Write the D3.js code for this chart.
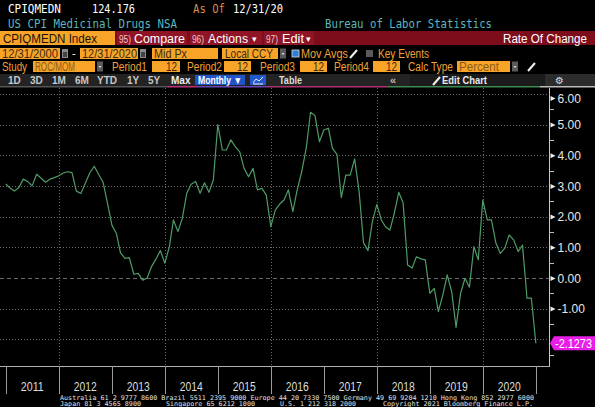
<!DOCTYPE html>
<html>
<head>
<meta charset="utf-8">
<script src="https://cdnjs.cloudflare.com/ajax/libs/d3/7.8.5/d3.min.js"></script>
<style>
  body { margin: 0; background: #000; overflow: hidden; }
  svg { display: block; }
</style>
</head>
<body>
<script>
// 12 month rate of change (%), one value per month end, Dec 2010 .. Dec 2020
var rocValues = [
  3.06,
  2.92, 2.83, 2.95, 3.22, 3.14, 3.00, 3.38, 3.25, 3.12, 3.22, 3.27, 3.33,
  3.42, 3.46, 3.43, 2.83, 2.75, 3.08, 3.42, 3.64, 3.38, 3.12, 2.45, 1.72,
  1.45, 0.82, 0.64, 0.66, 0.12, 0.15, -0.07, 0.00, 0.37, 0.62, 0.89, 0.48,
  1.02, 1.89, 1.51, 1.94, 2.76, 3.05, 3.14, 2.76, 3.10, 2.79, 3.19, 5.00,
  4.17, 4.17, 4.50, 4.28, 4.11, 3.57, 3.30, 3.57, 2.87, 2.92, 2.70, 1.67,
  2.21, 2.40, 2.54, 2.87, 2.16, 2.87, 3.46, 4.22, 5.40, 5.29, 4.44, 4.82,
  4.88, 4.22, 4.03, 2.62, 3.35, 3.35, 3.88, 2.81, 1.15, 0.89, 1.83, 2.40,
  1.89, 1.67, 1.56, 2.10, 2.79, 2.45, 0.42, 0.32, 0.69, 0.62, 0.59, -0.50,
  -0.34, -1.10, -0.55, 0.10, -0.45, -1.61, -0.50, -0.01, -0.30, 1.02, 0.59, 2.54,
  1.89, 1.89, 1.13, 0.80, 0.97, 1.40, 1.24, 0.86, 1.07, -0.66, -0.66, -2.1273
];
var firstMonth = new Date(2010, 11, 1);
var yearLabels = d3.range(2011, 2021);
var gridYears = [2012, 2014, 2016, 2018, 2020];
var yTicks = d3.range(-2, 7);
var yLabelTicks = d3.range(-1, 7); // -2.00 sits under the last value marker
var yMinorTicks = d3.range(-2.5, 6, 1);
var lastLabel = "-2.1273";

var svgWidth = 595, svgHeight = 407;
var plot = { left: 0, right: 549, top: 88, bottom: 366 };
var sans = "Liberation Sans, Arial, sans-serif";
var mono = "DejaVu Sans Mono, Liberation Mono, monospace";
var orange = "#f7a428", red = "#7d0d1b", btnRed = "#8f1526", teal = "#5cb6bf", amberText = "#f0a23a";

var svg = d3.select("body").append("svg")
  .attr("width", svgWidth)
  .attr("height", svgHeight)
  .style("background", "#000");

// helpers for the terminal header
function box(x, y, w, h, fill) {
  return svg.append("rect").attr("x", x).attr("y", y).attr("width", w).attr("height", h).attr("fill", fill);
}
function txt(x, y, s, o) {
  o = o || {};
  var t = svg.append("text").attr("x", x).attr("y", y).text(s)
    .attr("fill", o.fill || "#fff")
    .attr("font-size", o.size || 12)
    .attr("font-family", o.font || sans);
  if (o.len) t.attr("textLength", o.len).attr("lengthAdjust", "spacingAndGlyphs");
  if (o.anchor) t.attr("text-anchor", o.anchor);
  if (o.weight) t.attr("font-weight", o.weight);
  return t;
}
function dropdown(x, y) {
  box(x, y, 6, 10, "#5a5a5a");
  svg.append("path").attr("d", "M" + (x + 1.5) + "," + (y + 4.5) + "h3l-1.5,2z").attr("fill", "#ddd");
}
function pencil(x, y) {
  svg.append("line").attr("x1", x).attr("y1", y + 9).attr("x2", x + 7).attr("y2", y + 1)
    .attr("stroke", "#eee").attr("stroke-width", 2);
}
function calIcon(x, y) {
  box(x, y, 6, 9, "#8a8a8a");
  box(x + 1, y + 3, 4, 5, "#444");
}

// row 1 and 2: ticker and titles
txt(8, 13, "CPIQMEDN", { font: mono, size: 13, len: 53 });
txt(92, 13, "124.176", { font: mono, size: 13, len: 43 });
txt(193, 13, "As Of", { font: mono, size: 13, len: 32, fill: "#d9894a" });
txt(233, 13, "12/31/20", { font: mono, size: 13, len: 50 });
txt(8, 28, "US CPI Medicinal Drugs NSA", { font: mono, size: 12, len: 169, fill: teal });
txt(325, 28, "Bureau of Labor Statistics", { font: mono, size: 12, len: 167, fill: teal });

// row 3: red command bar
box(0, 31, 595, 14, red);
box(0, 31, 115, 14, orange);
txt(3, 43, "CPIQMEDN Index", { size: 13, len: 94, fill: "#1a1208" });
box(117, 31, 70, 14, btnRed);
txt(119, 43, "95)", { size: 11, fill: "#f2c6c6", len: 12 });
txt(134, 43, "Compare", { size: 13, len: 51 });
box(190, 31, 72, 14, btnRed);
txt(192, 43, "96)", { size: 11, fill: "#f2c6c6", len: 12 });
txt(208, 43, "Actions", { size: 13, len: 40 });
txt(252, 42, "▾", { size: 9 });
box(264, 31, 50, 14, btnRed);
txt(266, 43, "97)", { size: 11, fill: "#f2c6c6", len: 12 });
txt(282, 43, "Edit", { size: 13, len: 22 });
txt(306, 42, "▾", { size: 9 });
txt(503, 43, "Rate Of Change", { size: 12, len: 84 });

// row 4: dates and settings
box(0, 48, 60, 11, orange);
txt(2, 58, "12/31/2000", { size: 12, len: 56, fill: "#3a2a10" });
calIcon(62, 49);
txt(72, 57, "-", { size: 11 });
box(80, 48, 58, 11, orange);
txt(82, 58, "12/31/2020", { size: 12, len: 55, fill: "#3a2a10" });
calIcon(140, 49);
box(152, 48, 66, 11, orange);
txt(154, 58, "Mid Px", { size: 12, len: 33, fill: "#3a2a10" });
box(222, 48, 56, 11, orange);
txt(225, 58, "Local CCY", { size: 12, len: 48, fill: "#3a2a10" });
dropdown(280, 48.5);
box(292, 50, 7, 7, "#2f7fd6").attr("stroke", "#ddd").attr("stroke-width", 0.8);
txt(301, 58, "Mov Avgs", { size: 12, len: 47, fill: amberText });
pencil(350, 49);
box(366, 50, 7, 7, "#5a5a5a");
txt(378, 58, "Key Events", { size: 12, len: 51, fill: amberText });

// row 5: study parameters
txt(2, 71, "Study", { size: 12, len: 25, fill: amberText });
box(33, 61, 62, 11, orange);
txt(35, 71, "ROC/MOM", { size: 12, len: 40, fill: "#8a5a1a" });
dropdown(97, 61.5);
var periods = [[112, 152, 180], [187, 224, 251], [260, 300, 327], [334, 373, 400]];
periods.forEach(function(p, i) {
  txt(p[0], 71, "Period" + (i + 1), { size: 12, len: 35, fill: amberText });
  box(p[1], 61, p[2] - p[1], 11, orange);
  txt(p[2] - 3, 71, "12", { size: 12, len: 11, fill: "#3a2a10", anchor: "end" });
});
txt(408, 71, "Calc Type", { size: 12, len: 45, fill: amberText });
box(457, 61, 53, 11, orange);
txt(459, 71, "Percent", { size: 12, len: 40, fill: "#8a5a1a" });
dropdown(512, 61.5);
pencil(528, 62);

// row 6: range buttons
box(0, 74, 595, 12, "#232323");
box(410, 74, 135, 12, "#1b1b1b");
box(545, 74, 50, 12, "#2c2c2c");
var ranges = [["1D", 8], ["3D", 30], ["1M", 52], ["6M", 75], ["YTD", 97], ["1Y", 127], ["5Y", 148], ["Max", 171]];
ranges.forEach(function(r) {
  txt(r[1], 84, r[0], { size: 10, weight: "bold", fill: r[0] === "Max" ? "#eee" : "#c8c8c8" });
});
box(195, 75, 50, 10, "#2055c8");
txt(198, 84, "Monthly ▼", { size: 10, weight: "bold", len: 44 });
box(250, 75, 16, 10, "#2358cc");
svg.append("path").attr("d", "M253,83 L256,79 L259,81 L263,77 M253,84 H263")
  .attr("fill", "none").attr("stroke", "#fff").attr("stroke-width", 0.9);
txt(279, 84, "Table", { size: 10, weight: "bold", fill: "#ddd", len: 23 });
txt(390, 84, "«", { size: 11, weight: "bold", fill: "#bbb" });
pencil(433, 76);
txt(442, 84, "Edit Chart", { size: 10, weight: "bold", fill: "#e8e8e8", len: 45 });
txt(555, 84, "⚙", { size: 10, fill: "#ddd", font: "DejaVu Sans, sans-serif" });

// coloured strip under toolbar
var strip = [[0, 168, "#555"], [168, 197, "#c0307a"], [197, 267, "#6a46b8"], [267, 388, "#b03070"], [388, 540, "#3f8a50"], [540, 595, "#bbb"]];
strip.forEach(function(s) { box(s[0], 86, s[1] - s[0], 1.5, s[2]); });

// scales
var data = rocValues.map(function(v, i) {
  return { date: d3.timeDay.offset(d3.timeMonth.offset(firstMonth, i + 1), -1), value: v };
});
var x = d3.scaleTime()
  .domain([new Date(2011, 0, 1), new Date(2021, 0, 1)])
  .range([6, 536]);
var y = d3.scaleLinear()
  .domain([-2.87, 6.19])
  .range([plot.bottom, plot.top]);

var chart = svg.append("g");

// grid
chart.selectAll(".hgrid")
  .data(yTicks)
  .enter().append("line")
  .attr("x1", plot.left).attr("x2", plot.right)
  .attr("y1", function(d) { return Math.round(y(d)) + 0.5; })
  .attr("y2", function(d) { return Math.round(y(d)) + 0.5; })
  .attr("stroke", "#858585")
  .attr("stroke-width", 0.8)
  .attr("stroke-dasharray", function(d) { return d === 0 ? "4,3" : "1,2"; });

chart.selectAll(".vgrid")
  .data(gridYears)
  .enter().append("line")
  .attr("x1", function(d) { return Math.round(x(new Date(d, 0, 1))) + 0.5; })
  .attr("x2", function(d) { return Math.round(x(new Date(d, 0, 1))) + 0.5; })
  .attr("y1", plot.top).attr("y2", plot.bottom)
  .attr("stroke", "#858585")
  .attr("stroke-width", 0.8)
  .attr("stroke-dasharray", "1,2");

// series line
svg.append("clipPath").attr("id", "plotClip")
  .append("rect").attr("x", plot.left).attr("y", plot.top)
  .attr("width", plot.right - plot.left).attr("height", plot.bottom - plot.top);

var line = d3.line()
  .x(function(d) { return x(d.date); })
  .y(function(d) { return y(d.value); });

chart.append("path")
  .datum(data)
  .attr("clip-path", "url(#plotClip)")
  .attr("d", line)
  .attr("fill", "none")
  .attr("stroke", "#4f9b67")
  .attr("stroke-width", 1.2)
  .attr("stroke-linejoin", "round");

// frame
chart.append("line").attr("x1", plot.right + 0.5).attr("x2", plot.right + 0.5)
  .attr("y1", plot.top).attr("y2", plot.bottom)
  .attr("stroke", "#c8c8c8");
chart.append("line").attr("x1", 0).attr("x2", plot.right + 1)
  .attr("y1", plot.bottom + 0.5).attr("y2", plot.bottom + 0.5)
  .attr("stroke", "#b0b0b0");

// right axis
var rightAxis = d3.axisRight(y)
  .tickValues(yLabelTicks)
  .tickSize(0)
  .tickPadding(8)
  .tickFormat(function(d) { return d.toFixed(2); });

var axisG = svg.append("g")
  .attr("transform", "translate(" + (plot.right + 0.5) + ",0)")
  .call(rightAxis);
axisG.select(".domain").remove();
axisG.selectAll("text")
  .attr("fill", "#e6e6e6")
  .attr("font-size", 12)
  .attr("font-family", sans)
  .attr("dy", "0.35em")
  .attr("y", function(d) { return y(d) < 98 ? 98 - y(d) : 0; });
axisG.selectAll(".tick").append("path")
  .attr("d", function(d) {
    var off = y(d) < 98 ? 98 - y(d) : 0;
    return "M1," + (off - 2.5) + " L6," + off + " L1," + (off + 2.5) + "Z";
  })
  .attr("fill", "#f0f0f0");

svg.selectAll(".minor")
  .data(yMinorTicks)
  .enter().append("line")
  .attr("x1", plot.right + 1).attr("x2", plot.right + 5)
  .attr("y1", function(d) { return Math.round(y(d)) + 0.5; })
  .attr("y2", function(d) { return Math.round(y(d)) + 0.5; })
  .attr("stroke", "#bbb");

// last value marker
var lastY = y(rocValues[rocValues.length - 1]);
svg.append("path")
  .attr("d", "M550," + lastY + " L554," + (lastY - 7) + " H595 V" + (lastY + 7) + " H554 Z")
  .attr("fill", "#e81ee8");
txt(555, lastY + 4.5, lastLabel, { size: 12, len: 37 });

// bottom year band
var yearEdges = d3.range(2011, 2022);
svg.selectAll(".yearsep")
  .data(yearEdges)
  .enter().append("line")
  .attr("x1", function(d) { return Math.round(x(new Date(d, 0, 1))) + 0.5; })
  .attr("x2", function(d) { return Math.round(x(new Date(d, 0, 1))) + 0.5; })
  .attr("y1", plot.bottom).attr("y2", 394)
  .attr("stroke", "#9a9a9a");

svg.selectAll(".yearlabel")
  .data(yearLabels)
  .enter().append("text")
  .attr("x", function(d) { return x(new Date(d, 6, 1)); })
  .attr("y", 391)
  .attr("text-anchor", "middle")
  .attr("fill", "#dedede")
  .attr("font-size", 12)
  .attr("font-family", sans)
  .attr("textLength", 23)
  .attr("lengthAdjust", "spacingAndGlyphs")
  .text(function(d) { return d; });

// footer
var footMono = { font: mono, size: 6.5, fill: "#e0e0e0" };
txt(60, 399.5, "Australia 61 2 9777 8600 Brazil 5511 2395 9000 Europe 44 20 7330 7500 Germany 49 69 9204 1210 Hong Kong 852 2977 6000",
  Object.assign({ len: 474 }, footMono));
txt(60, 406, "Japan 81 3 4565 8900", Object.assign({ len: 81 }, footMono));
txt(166, 406, "Singapore 65 6212 1000", Object.assign({ len: 89 }, footMono));
txt(280, 406, "U.S. 1 212 318 2000", Object.assign({ len: 76 }, footMono));
txt(383, 406, "Copyright 2021 Bloomberg Finance L.P.", Object.assign({ len: 150 }, footMono));
</script>
</body>
</html>
